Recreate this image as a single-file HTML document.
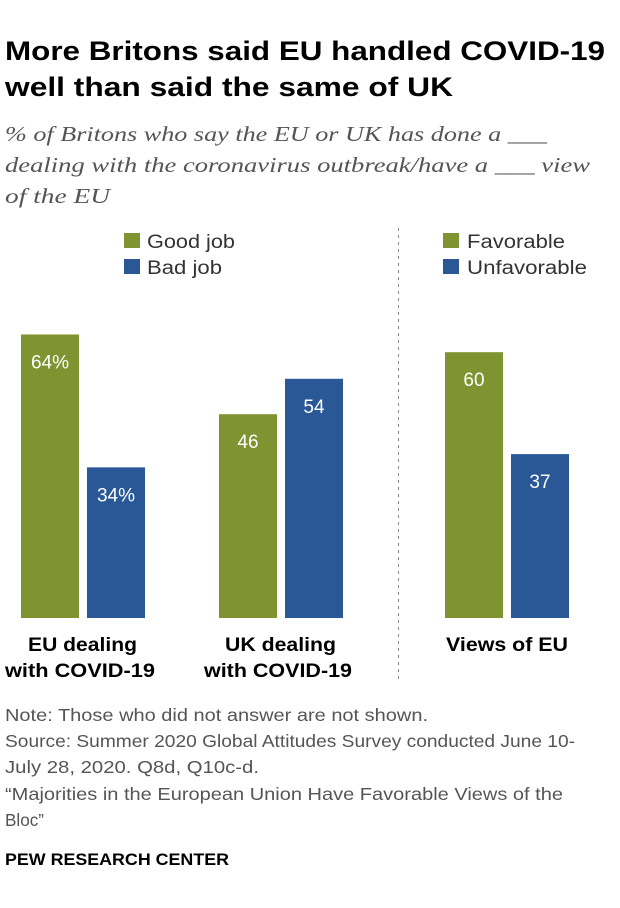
<!DOCTYPE html>
<html><head><meta charset="utf-8">
<style>
body{margin:0;width:620px;height:908px;background:#fff;font-family:"Liberation Sans",sans-serif;overflow:hidden}
svg{position:absolute;left:0;top:0}
</style></head>
<body>
<svg width="620" height="908">
<text x="5" y="60" font-size="27" font-weight="bold" fill="#000" textLength="600" lengthAdjust="spacingAndGlyphs">More Britons said EU handled COVID-19</text>
<text x="5" y="96" font-size="27" font-weight="bold" fill="#000" textLength="448" lengthAdjust="spacingAndGlyphs">well than said the same of UK</text>
<g font-family="Liberation Serif,serif" font-style="italic" font-size="21" fill="#555">
<text x="5" y="141" textLength="542" lengthAdjust="spacingAndGlyphs">% of Britons who say the EU or UK has done a ___</text>
<text x="5" y="172" textLength="585" lengthAdjust="spacingAndGlyphs">dealing with the coronavirus outbreak/have a ___ view</text>
<text x="5" y="203" textLength="105" lengthAdjust="spacingAndGlyphs">of the EU</text>
</g>
<g font-size="19" fill="#333">
<rect x="124" y="233" width="16" height="15" fill="#7f9330"/>
<text x="147" y="248" textLength="88" lengthAdjust="spacingAndGlyphs">Good job</text>
<rect x="124" y="259" width="16" height="15" fill="#2a5896"/>
<text x="147" y="274" textLength="75" lengthAdjust="spacingAndGlyphs">Bad job</text>
<rect x="443" y="233" width="16" height="15" fill="#7f9330"/>
<text x="467" y="248" textLength="98" lengthAdjust="spacingAndGlyphs">Favorable</text>
<rect x="443" y="259" width="16" height="15" fill="#2a5896"/>
<text x="467" y="274" textLength="120" lengthAdjust="spacingAndGlyphs">Unfavorable</text>
</g>
<line x1="398.5" y1="228" x2="398.5" y2="682" stroke="#888" stroke-dasharray="3,4"/>
<g id="bars"></g>
<g font-size="19" font-weight="bold" fill="#000">
<text x="28" y="651" textLength="109" lengthAdjust="spacingAndGlyphs">EU dealing</text>
<text x="5" y="677" textLength="150" lengthAdjust="spacingAndGlyphs">with COVID-19</text>
<text x="225" y="651" textLength="111" lengthAdjust="spacingAndGlyphs">UK dealing</text>
<text x="204" y="677" textLength="148" lengthAdjust="spacingAndGlyphs">with COVID-19</text>
<text x="446" y="651" textLength="122" lengthAdjust="spacingAndGlyphs">Views of EU</text>
</g>
<g font-size="17.5" fill="#555">
<text x="5" y="721" textLength="423" lengthAdjust="spacingAndGlyphs">Note: Those who did not answer are not shown.</text>
<text x="5" y="747" textLength="570" lengthAdjust="spacingAndGlyphs">Source: Summer 2020 Global Attitudes Survey conducted June 10-</text>
<text x="5" y="773" textLength="254" lengthAdjust="spacingAndGlyphs">July 28, 2020. Q8d, Q10c-d.</text>
<text x="5" y="800" textLength="558" lengthAdjust="spacingAndGlyphs">“Majorities in the European Union Have Favorable Views of the</text>
<text x="5" y="826" textLength="39" lengthAdjust="spacingAndGlyphs">Bloc”</text>
</g>
<text x="5" y="865" font-size="17" font-weight="bold" fill="#000" textLength="224" lengthAdjust="spacingAndGlyphs">PEW RESEARCH CENTER</text>
</svg>
<script>
const categories=["EU dealing with COVID-19","UK dealing with COVID-19","Views of EU"];
const positiveValues=[64,46,60];
const negativeValues=[34,54,37];
const valueLabelsPos=["64%","46","60"];
const valueLabelsNeg=["34%","54","37"];
const base=618, scale=4.43, groupX=[21,219,445], bw=58, gap=8;
const ns="http://www.w3.org/2000/svg", g=document.getElementById('bars');
function y(v){return base-v*scale;}
function bar(x,v,color,label,name){
  const r=document.createElementNS(ns,'rect');
  r.setAttribute('x',x);r.setAttribute('y',y(v));r.setAttribute('width',bw);r.setAttribute('height',v*scale);r.setAttribute('fill',color);
  
  
  g.appendChild(r);
  const t=document.createElementNS(ns,'text');
  t.setAttribute('x',x+bw/2);t.setAttribute('y',y(v)+34);t.setAttribute('text-anchor','middle');t.setAttribute('font-size','19');t.setAttribute('fill','#fff');
  t.textContent=label;
  
  
  g.appendChild(t);
}
categories.forEach((c,i)=>{
  bar(groupX[i],positiveValues[i],'#7f9330',valueLabelsPos[i],'bar-positive');
  bar(groupX[i]+bw+gap,negativeValues[i],'#2a5896',valueLabelsNeg[i],'bar-negative');
});
</script>
</body></html>
